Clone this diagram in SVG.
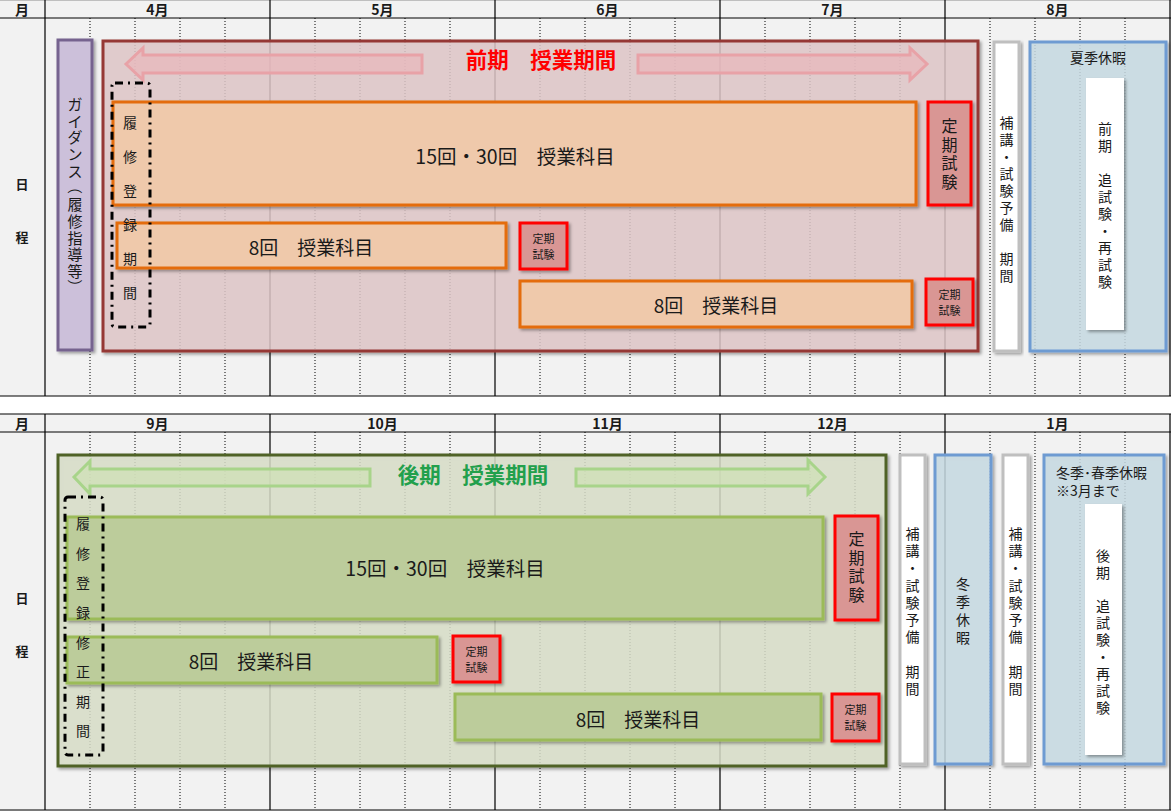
<svg xmlns="http://www.w3.org/2000/svg" width="1171" height="811" viewBox="0 0 1171 811">
<style>
text{font-family:"Noto Sans CJK JP","Noto Sans",sans-serif;fill:#1a1a1a}
.hd{font-size:14px;font-weight:bold;text-anchor:middle}
.lb{font-size:13px;font-weight:bold;text-anchor:middle;dominant-baseline:central}
.solid{stroke:#000;stroke-width:1.2;fill:none}
.dot{stroke:#000;stroke-width:1;stroke-dasharray:1 2;fill:none}
.bigred{fill:#e3cacc;fill-opacity:.8;stroke:#953735;stroke-width:3}
.biggreen{fill:#dce2cc;fill-opacity:.8;stroke:#4f6228;stroke-width:3}
.purple{fill:#ccc0da;stroke:#76648f;stroke-width:3}
.orange{fill:#efc9ab;stroke:#e46c0a;stroke-width:3}
.green{fill:#bccc9b;stroke:#9bbb59;stroke-width:3}
.exam{fill:#d99694;stroke:#ff0000;stroke-width:3}
.grey{fill:#fff;stroke:#bfbfbf;stroke-width:3}
.blue{fill:#cbdee7;fill-opacity:.8;stroke:#6e9bd2;stroke-width:3}
.white{fill:#fff}
.dash{fill:none;stroke:#000;stroke-width:3;stroke-dasharray:8 5 2 5}
.parr{fill:#e8b7bb;fill-opacity:.7;stroke:#e8a2a7;stroke-width:3}
.garr{fill:#cfe0b5;fill-opacity:.7;stroke:#a8d48a;stroke-width:3}
.c{text-anchor:middle;dominant-baseline:central}
.big{font-size:19.5px}
.mid{font-size:19px}
.v14{font-size:14px}
.v15{font-size:15px}
.v16{font-size:16px}
.s11{font-size:11px}
.ttl{font-size:21.5px;font-weight:bold;text-anchor:middle}
.sh{filter:url(#sh)}
</style>
<defs>
<filter id="sh" x="-20%" y="-20%" width="140%" height="140%">
<feDropShadow dx="2" dy="2" stdDeviation="1.5" flood-color="#000" flood-opacity="0.35"/>
</filter>
</defs>

<g id="grid">
<rect x="0" y="0" width="1171" height="811" fill="#ffffff"/>
<rect x="0" y="0" width="1171" height="396" fill="#f2f2f2"/>
<rect x="0" y="414" width="1171" height="397" fill="#f2f2f2"/>
<line x1="0" y1="0.5" x2="1171" y2="0.5" stroke="#bfbfbf"/>
<line class="solid" x1="0" y1="18" x2="1171" y2="18"/>
<line class="solid" x1="0" y1="396" x2="1171" y2="396"/>
<line class="solid" x1="0" y1="414" x2="1171" y2="414"/>
<line class="solid" x1="0" y1="432" x2="1171" y2="432"/>
<line class="solid" x1="0" y1="810" x2="1171" y2="810"/>
<path class="solid" d="M45,0V396M270,0V396M495,0V396M720,0V396M945,0V396M1170,0V396M45,414V810M270,414V810M495,414V810M720,414V810M945,414V810M1170,414V810"/>
<path class="dot" d="M90,18V396M135,18V396M180,18V396M225,18V396M315,18V396M360,18V396M405,18V396M450,18V396M540,18V396M585,18V396M630,18V396M675,18V396M765,18V396M810,18V396M855,18V396M900,18V396M990,18V396M1035,18V396M1080,18V396M1125,18V396"/>
<path class="dot" d="M90,432V810M135,432V810M180,432V810M225,432V810M315,432V810M360,432V810M405,432V810M450,432V810M540,432V810M585,432V810M630,432V810M675,432V810M765,432V810M810,432V810M855,432V810M900,432V810M990,432V810M1035,432V810M1080,432V810M1125,432V810"/>
<text class="hd" x="22" y="15">月</text>
<text class="hd" x="157.5" y="15">4月</text>
<text class="hd" x="382.5" y="15">5月</text>
<text class="hd" x="607.5" y="15">6月</text>
<text class="hd" x="832.5" y="15">7月</text>
<text class="hd" x="1057.5" y="15">8月</text>
<text class="lb" x="22" y="183">日</text>
<text class="lb" x="22" y="236">程</text>
<text class="hd" x="22" y="429">月</text>
<text class="hd" x="157.5" y="429">9月</text>
<text class="hd" x="382.5" y="429">10月</text>
<text class="hd" x="607.5" y="429">11月</text>
<text class="hd" x="832.5" y="429">12月</text>
<text class="hd" x="1057.5" y="429">1月</text>
<text class="lb" x="22" y="597">日</text>
<text class="lb" x="22" y="650">程</text>
</g>

<g id="guidance">
<rect class="purple sh" x="58" y="40" width="34" height="310"/>
<text class="c v15"><tspan x="75" y="103">ガ</tspan><tspan x="75" y="119.7">イ</tspan><tspan x="75" y="136.4">ダ</tspan><tspan x="75" y="153.1">ン</tspan><tspan x="75" y="169.8">ス</tspan></text>
<text class="c v15" transform="translate(75,186.5) rotate(90)">（</text>
<text class="c v15"><tspan x="75" y="203.2">履</tspan><tspan x="75" y="219.9">修</tspan><tspan x="75" y="236.6">指</tspan><tspan x="75" y="253.3">導</tspan><tspan x="75" y="270">等</tspan></text>
<text class="c v15" transform="translate(75,286.7) rotate(90)">）</text>
</g>
<g id="zenki-period">
<rect class="bigred sh" x="103" y="41" width="875" height="310"/>
<text class="ttl" x="541" y="68" style="fill:#ff0000">前期　授業期間</text>
</g>
<g id="kouki-period">
<rect class="biggreen sh" x="58" y="455" width="828" height="311"/>
<text class="ttl" x="473" y="483" style="fill:#22a04c">後期　授業期間</text>
</g>
<g id="connectors">
<path class="parr" d="M126,64 L143,48 L143,55 L422,55 L422,73 L143,73 L143,80 Z"/>
<path class="parr" d="M638,55 L910,55 L910,48 L927,64 L910,80 L910,73 L638,73 Z"/>
<path class="garr" d="M74,477 L90,461 L90,469 L370,469 L370,486 L90,486 L90,494 Z"/>
<path class="garr" d="M576,469 L808,469 L808,460 L825,477 L808,494 L808,486 L576,486 Z"/>
</g>

<g id="zenki-15">
<rect class="orange sh" x="113" y="102" width="803" height="103"/>
<text class="c big" x="515" y="155">15回・30回　授業科目</text>
</g>
<g id="zenki-exam-main">
<rect class="exam sh" x="928" y="102" width="43" height="103"/>
<text class="c v16"><tspan x="949.5" y="125">定</tspan><tspan x="949.5" y="143.5">期</tspan><tspan x="949.5" y="162">試</tspan><tspan x="949.5" y="180.5">験</tspan></text>
</g>
<g id="zenki-8a">
<rect class="orange sh" x="117" y="223" width="389" height="45"/>
<text class="c mid" x="311" y="246">8回　授業科目</text>
</g>
<g id="zenki-exam-a">
<rect class="exam sh" x="520" y="223" width="47" height="46"/>
<text class="c s11"><tspan x="543.5" y="238">定期</tspan><tspan x="543.5" y="254">試験</tspan></text>
</g>
<g id="zenki-8b">
<rect class="orange sh" x="520" y="281" width="392" height="46"/>
<text class="c mid" x="716" y="304">8回　授業科目</text>
</g>
<g id="zenki-exam-b">
<rect class="exam sh" x="926" y="279" width="47" height="46"/>
<text class="c s11"><tspan x="949.5" y="294">定期</tspan><tspan x="949.5" y="310">試験</tspan></text>
</g>
<g id="zenki-registration">
<rect class="dash" x="112" y="83" width="38" height="244" rx="3"/>
<text class="c v14"><tspan x="130" y="122">履</tspan><tspan x="130" y="156">修</tspan><tspan x="130" y="190">登</tspan><tspan x="130" y="224">録</tspan><tspan x="130" y="258">期</tspan><tspan x="130" y="292">間</tspan></text>
</g>
<g id="zenki-makeup">
<rect class="grey sh" x="994" y="42" width="25" height="309"/>
<text class="c v14"><tspan x="1006.5" y="122">補</tspan><tspan x="1006.5" y="139">講</tspan><tspan x="1006.5" y="156">・</tspan><tspan x="1006.5" y="173">試</tspan><tspan x="1006.5" y="190">験</tspan><tspan x="1006.5" y="207">予</tspan><tspan x="1006.5" y="224">備</tspan><tspan x="1006.5" y="258">期</tspan><tspan x="1006.5" y="275">間</tspan></text>
</g>
<g id="summer-break">
<rect class="blue sh" x="1030" y="42" width="136" height="309"/>
<text class="c v14" x="1098" y="57">夏季休暇</text>
<rect class="white sh" x="1086" y="78" width="38" height="252"/>
<text class="c v14"><tspan x="1105" y="128">前</tspan><tspan x="1105" y="145">期</tspan><tspan x="1105" y="179">追</tspan><tspan x="1105" y="196">試</tspan><tspan x="1105" y="213">験</tspan><tspan x="1105" y="230">・</tspan><tspan x="1105" y="247">再</tspan><tspan x="1105" y="264">試</tspan><tspan x="1105" y="281">験</tspan></text>
</g>

<g id="kouki-15">
<rect class="green sh" x="67" y="517" width="756" height="102"/>
<text class="c big" x="445" y="567">15回・30回　授業科目</text>
</g>
<g id="kouki-exam-main">
<rect class="exam sh" x="835" y="516" width="43" height="104"/>
<text class="c v16"><tspan x="856.5" y="538">定</tspan><tspan x="856.5" y="556.5">期</tspan><tspan x="856.5" y="575">試</tspan><tspan x="856.5" y="593.5">験</tspan></text>
</g>
<g id="kouki-8a">
<rect class="green sh" x="67" y="637" width="370" height="46"/>
<text class="c mid" x="251" y="660">8回　授業科目</text>
</g>
<g id="kouki-exam-a">
<rect class="exam sh" x="453" y="636" width="47" height="46"/>
<text class="c s11"><tspan x="476.5" y="651">定期</tspan><tspan x="476.5" y="667">試験</tspan></text>
</g>
<g id="kouki-8b">
<rect class="green sh" x="455" y="694" width="366" height="46"/>
<text class="c mid" x="638" y="718">8回　授業科目</text>
</g>
<g id="kouki-exam-b">
<rect class="exam sh" x="832" y="694" width="47" height="47"/>
<text class="c s11"><tspan x="855.5" y="709">定期</tspan><tspan x="855.5" y="725">試験</tspan></text>
</g>
<g id="kouki-registration">
<rect class="dash" x="65" y="497" width="38" height="258" rx="3"/>
<text class="c v14"><tspan x="83" y="523">履</tspan><tspan x="83" y="553">修</tspan><tspan x="83" y="582">登</tspan><tspan x="83" y="612">録</tspan><tspan x="83" y="642">修</tspan><tspan x="83" y="671">正</tspan><tspan x="83" y="701">期</tspan><tspan x="83" y="730">間</tspan></text>
</g>
<g id="kouki-makeup-1">
<rect class="grey sh" x="900" y="455" width="25" height="309"/>
<text class="c v14"><tspan x="912.5" y="533">補</tspan><tspan x="912.5" y="550.2">講</tspan><tspan x="912.5" y="567.4">・</tspan><tspan x="912.5" y="584.6">試</tspan><tspan x="912.5" y="601.8">験</tspan><tspan x="912.5" y="619">予</tspan><tspan x="912.5" y="636.2">備</tspan><tspan x="912.5" y="670.6">期</tspan><tspan x="912.5" y="687.8">間</tspan></text>
</g>
<g id="winter-break">
<rect class="blue sh" x="935" y="455" width="56" height="309"/>
<text class="c v14"><tspan x="963" y="583">冬</tspan><tspan x="963" y="601">季</tspan><tspan x="963" y="619">休</tspan><tspan x="963" y="637">暇</tspan></text>
</g>
<g id="kouki-makeup-2">
<rect class="grey sh" x="1003" y="455" width="25" height="309"/>
<text class="c v14"><tspan x="1015.5" y="533">補</tspan><tspan x="1015.5" y="550.2">講</tspan><tspan x="1015.5" y="567.4">・</tspan><tspan x="1015.5" y="584.6">試</tspan><tspan x="1015.5" y="601.8">験</tspan><tspan x="1015.5" y="619">予</tspan><tspan x="1015.5" y="636.2">備</tspan><tspan x="1015.5" y="670.6">期</tspan><tspan x="1015.5" y="687.8">間</tspan></text>
</g>
<g id="spring-break">
<rect class="blue sh" x="1044" y="455" width="120" height="309"/>
<text class="v14" x="1056" y="472" style="dominant-baseline:central">冬季･春季休暇</text>
<text class="v14" x="1056" y="490" style="dominant-baseline:central">※3月まで</text>
<rect class="white sh" x="1085" y="504" width="37" height="251"/>
<text class="c v14"><tspan x="1103" y="555">後</tspan><tspan x="1103" y="572">期</tspan><tspan x="1103" y="605">追</tspan><tspan x="1103" y="622">試</tspan><tspan x="1103" y="639">験</tspan><tspan x="1103" y="656">・</tspan><tspan x="1103" y="673">再</tspan><tspan x="1103" y="690">試</tspan><tspan x="1103" y="707">験</tspan></text>
</g>
</svg>
